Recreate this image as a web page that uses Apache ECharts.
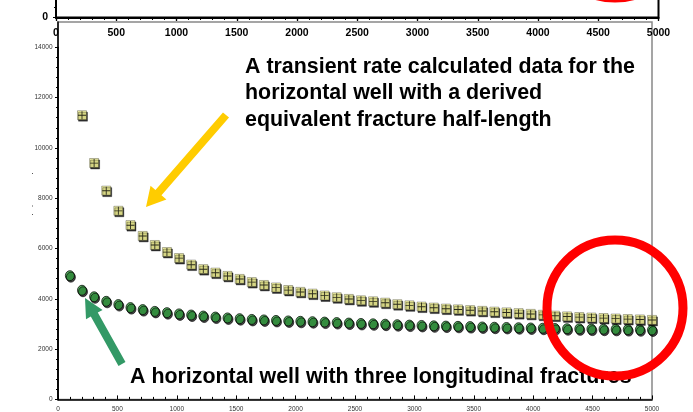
<!DOCTYPE html>
<html>
<head>
<meta charset="utf-8">
<script src="https://cdn.jsdelivr.net/npm/echarts@6/dist/echarts.min.js"></script>
<style>
  html, body { margin: 0; padding: 0; background: #fff; }
  #chart { width: 693px; height: 412px; }
</style>
</head>
<body>
<div id="chart"></div>
<script>
// Production time (days) of each sample
const timeDays = [100, 202, 304, 406, 508, 610, 713, 815, 917, 1019, 1121, 1223, 1325, 1427, 1529,
  1631, 1733, 1835, 1938, 2040, 2142, 2244, 2346, 2448, 2550, 2652, 2754, 2856, 2958, 3060, 3163,
  3265, 3367, 3469, 3571, 3673, 3775, 3877, 3979, 4081, 4183, 4285, 4388, 4490, 4592, 4694, 4796,
  4898, 5000];

// Horizontal well with three longitudinal fractures (one value per timeDays entry)
const multiFracRate = [4920, 4340, 4080, 3900, 3770, 3650, 3570, 3500, 3450, 3400, 3355, 3315,
  3275, 3240, 3210, 3180, 3160, 3140, 3120, 3105, 3090, 3075, 3055, 3035, 3020, 3005, 2990, 2970,
  2955, 2940, 2925, 2915, 2905, 2895, 2880, 2870, 2860, 2850, 2840, 2830, 2820, 2810, 2805, 2795,
  2790, 2785, 2775, 2770, 2760];

// Transient rate with equivalent fracture half-length (starts at the second time step)
const transientRate = [11300, 9400, 8300, 7500, 6930, 6500, 6140, 5860, 5620, 5360, 5180, 5040,
  4910, 4790, 4665, 4550, 4450, 4350, 4275, 4205, 4130, 4060, 3995, 3940, 3900, 3845, 3785, 3740,
  3690, 3650, 3610, 3580, 3550, 3520, 3490, 3460, 3430, 3400, 3365, 3330, 3300, 3275, 3255, 3235,
  3215, 3195, 3180, 3160];

const xTicks = { min: 0, max: 5000, interval: 500 };
const yTicks = { min: 0, max: 14000, interval: 2000 };

const FONT = '"Liberation Sans", Arial, Helvetica, sans-serif';
const plain = v => String(v);

const fracData = multiFracRate.map((v, i) => [timeDays[i], v]);
const transData = transientRate.map((v, j) => [timeDays[j + 1], v]);

// Block arrow polygon from tail to tip
function arrow(tail, tip, shaftW, headW, headL) {
  const dx = tip[0] - tail[0], dy = tip[1] - tail[1];
  const len = Math.hypot(dx, dy);
  const ux = dx / len, uy = dy / len;
  const nx = -uy, ny = ux;
  const bx = tip[0] - ux * headL, by = tip[1] - uy * headL;
  const s = shaftW / 2, h = headW / 2;
  return [
    [tail[0] + nx * s, tail[1] + ny * s],
    [bx + nx * s, by + ny * s],
    [bx + nx * h, by + ny * h],
    [tip[0], tip[1]],
    [bx - nx * h, by - ny * h],
    [bx - nx * s, by - ny * s],
    [tail[0] - nx * s, tail[1] - ny * s]
  ];
}

const chart = echarts.init(document.getElementById('chart'), null, { renderer: 'canvas' });

const smallLabel = { fontSize: 6.5, color: '#333', fontFamily: FONT, formatter: plain };
const bigLabel = { fontSize: 10.5, fontWeight: 'bold', color: '#000', fontFamily: FONT, formatter: plain };

chart.setOption({
  animation: false,
  backgroundColor: '#fff',
  grid: [
    // main plot area
    { left: 58, right: 41, top: 47.3, bottom: 12.6, show: false, outerBoundsMode: 'none', containLabel: false },
    // lower edge of the chart above
    { left: 56, right: 34.5, top: -87.5, bottom: 394.5, show: true, borderColor: '#000', borderWidth: 2, outerBoundsMode: 'none', containLabel: false },
    // frame around the main plot
    { left: 58, right: 41, top: 22, bottom: 12.6, show: true, borderColor: '#888', borderWidth: 1.5, outerBoundsMode: 'none', containLabel: false }
  ],
  xAxis: [
    {
      gridIndex: 0, type: 'value', min: xTicks.min, max: xTicks.max, interval: xTicks.interval,
      axisLine: { show: true, onZero: false, lineStyle: { color: '#000', width: 1.5 } },
      axisTick: { show: true, inside: true, length: 4, lineStyle: { color: '#000' } },
      minorTick: { show: true, splitNumber: 5, length: 2.5, lineStyle: { color: '#000' } },
      axisLabel: Object.assign({ margin: 6 }, smallLabel),
      splitLine: { show: false }
    },
    {
      gridIndex: 1, type: 'value', min: xTicks.min, max: xTicks.max, interval: xTicks.interval,
      axisLine: { show: true, onZero: false, lineStyle: { color: '#000', width: 2 } },
      axisTick: { show: true, inside: false, length: 3, lineStyle: { color: '#000', width: 1.2 } },
      minorTick: { show: true, splitNumber: 5, length: 2.5, lineStyle: { color: '#000' } },
      axisLabel: Object.assign({ margin: 10 }, bigLabel),
      splitLine: { show: false }
    },
    {
      gridIndex: 1, type: 'value', min: xTicks.min, max: xTicks.max, interval: xTicks.interval,
      axisLine: { show: false },
      axisTick: { show: true, inside: true, length: 3.5, lineStyle: { color: '#000', width: 1.2 } },
      axisLabel: { show: false }, splitLine: { show: false }
    },
    {
      gridIndex: 2, type: 'value', min: 0, max: 1, show: false
    }
  ],
  yAxis: [
    {
      gridIndex: 0, type: 'value', min: yTicks.min, max: yTicks.max, interval: yTicks.interval,
      axisLine: { show: true, onZero: false, lineStyle: { color: '#000', width: 1.5 } },
      axisTick: { show: true, inside: false, length: 3, lineStyle: { color: '#000' } },
      minorTick: { show: true, splitNumber: 5, length: 2, lineStyle: { color: '#000' } },
      axisLabel: Object.assign({ margin: 5.5 }, smallLabel),
      splitLine: { show: false }
    },
    {
      gridIndex: 1, type: 'value', min: 0, max: 1000, interval: 500,
      axisLine: { show: true, onZero: false, lineStyle: { color: '#000', width: 2 } },
      axisTick: { show: true, inside: false, length: 3, lineStyle: { color: '#000' } },
      minorTick: { show: true, splitNumber: 5, length: 2, lineStyle: { color: '#000' } },
      axisLabel: Object.assign({ margin: 8 }, bigLabel),
      splitLine: { show: false }
    },
    {
      gridIndex: 2, type: 'value', min: 0, max: 1,
      axisLine: { show: true, onZero: false, lineStyle: { color: '#000', width: 1.5 } },
      axisTick: { show: false }, axisLabel: { show: false }, splitLine: { show: false }
    }
  ],
  series: [
    {
      name: 'Three longitudinal fractures',
      type: 'scatter', xAxisIndex: 0, yAxisIndex: 0,
      data: fracData,
      symbol: 'circle', symbolSize: [9, 10],
      itemStyle: {
        color: '#2f9e3c', borderColor: '#000', borderWidth: 0.9,
        shadowColor: 'rgba(0,0,0,0.9)', shadowOffsetX: 1, shadowOffsetY: 1.5, shadowBlur: 0
      },
      z: 3
    },
    {
      name: 'Transient rate',
      type: 'scatter', xAxisIndex: 0, yAxisIndex: 0,
      data: transData,
      symbol: 'rect', symbolSize: 9,
      itemStyle: {
        color: '#ffff99', borderColor: '#000', borderWidth: 0.4,
        shadowColor: 'rgba(0,0,0,1)', shadowOffsetX: 1, shadowOffsetY: 1.5, shadowBlur: 0
      },
      z: 4
    },
    {
      name: 'Transient rate cross',
      type: 'scatter', xAxisIndex: 0, yAxisIndex: 0,
      data: transData,
      symbol: 'path://M0,4.1H9V5.1H0Z M4,0H5V9H4Z', symbolSize: 8,
      itemStyle: { color: '#000' },
      z: 5, silent: true
    }
  ],
  graphic: [
    // yellow arrow
    { type: 'polygon', z: 100, shape: { points: arrow([226, 115], [146, 207], 8, 21, 19) }, style: { fill: '#ffcc00' } },
    // green arrow
    { type: 'polygon', z: 100, shape: { points: arrow([122, 364], [85, 298], 8, 19, 19) }, style: { fill: '#339966' } },
    // annotation texts
    { type: 'text', z: 101, x: 245, y: 67, style: { text: 'A transient rate calculated data for the', font: 'bold 21.4px ' + FONT, fill: '#000', align: 'left', verticalAlign: 'middle' } },
    { type: 'text', z: 101, x: 245, y: 93.5, style: { text: 'horizontal well with a derived', font: 'bold 21.4px ' + FONT, fill: '#000', align: 'left', verticalAlign: 'middle' } },
    { type: 'text', z: 101, x: 245, y: 120, style: { text: 'equivalent fracture half-length', font: 'bold 21.4px ' + FONT, fill: '#000', align: 'left', verticalAlign: 'middle' } },
    { type: 'text', z: 101, x: 130, y: 377, style: { text: 'A horizontal well with three longitudinal fractures', font: 'bold 21.4px ' + FONT, fill: '#000', align: 'left', verticalAlign: 'middle' } },
    // red highlight rings
    { type: 'circle', z: 110, shape: { cx: 615, cy: 308, r: 68 }, style: { fill: 'none', stroke: '#ff0000', lineWidth: 9 } },
    { type: 'circle', z: 110, shape: { cx: 615, cy: -70, r: 68 }, style: { fill: 'none', stroke: '#ff0000', lineWidth: 9 } },
    // faint marks left of the y axis
    { type: 'rect', z: 100, shape: { x: 32, y: 173, width: 1, height: 1 }, style: { fill: '#555' } },
    { type: 'rect', z: 100, shape: { x: 32, y: 205.5, width: 1, height: 1 }, style: { fill: '#555' } },
    { type: 'rect', z: 100, shape: { x: 32, y: 214, width: 1, height: 1 }, style: { fill: '#555' } }
  ]
});
</script>
</body>
</html>
